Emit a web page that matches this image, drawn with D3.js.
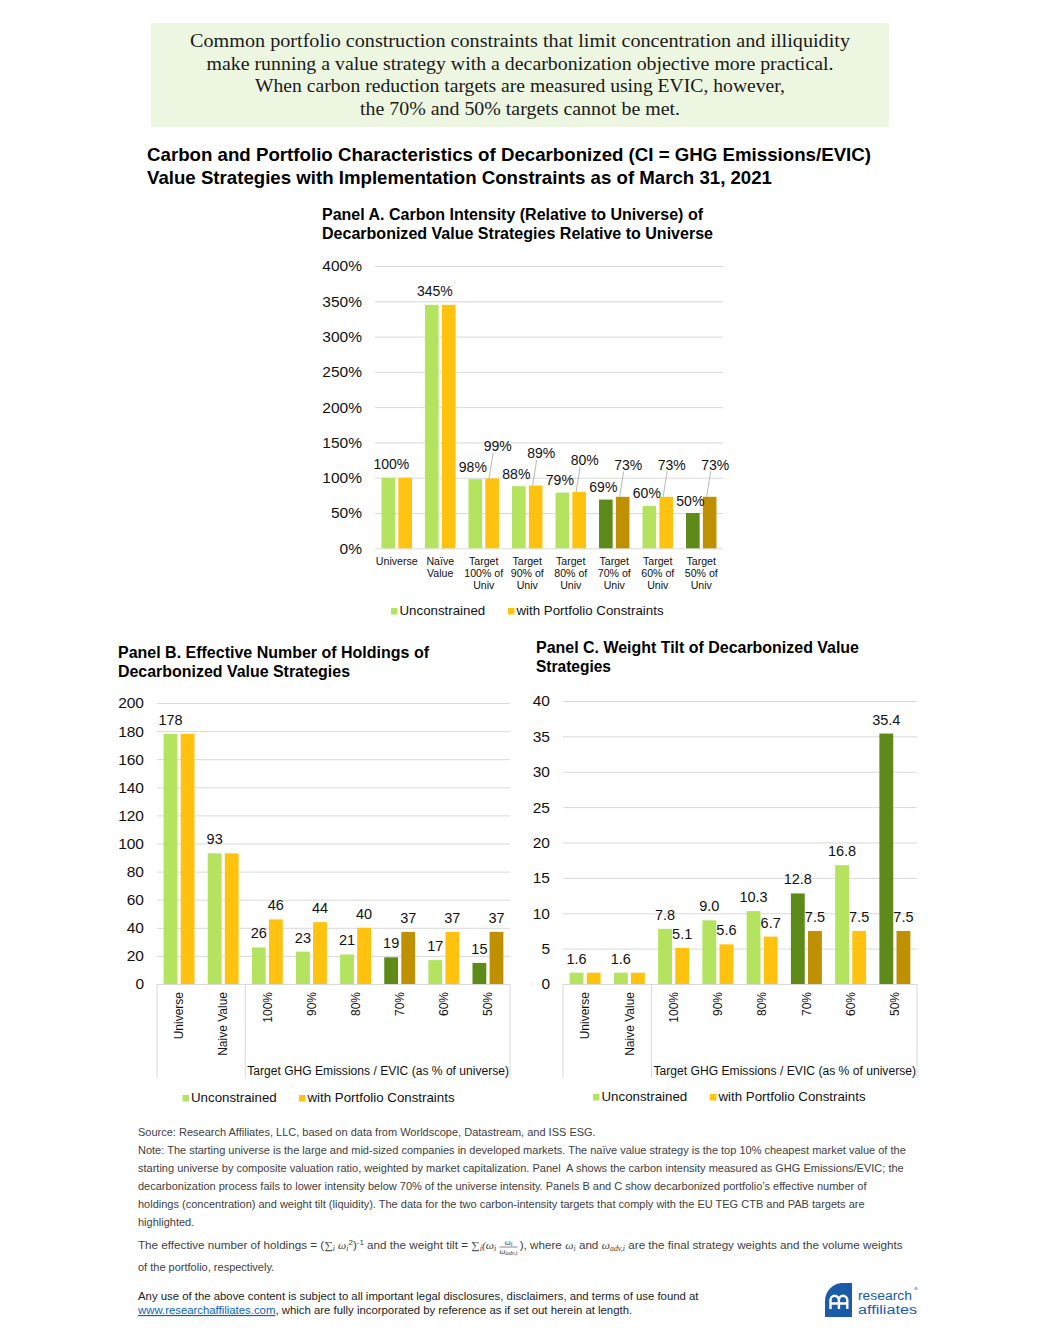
<!DOCTYPE html>
<html><head><meta charset="utf-8">
<script src="https://cdn.jsdelivr.net/npm/d3@7"></script>
<style>body{margin:0;background:#fff} svg{display:block} text{white-space:pre}</style>
</head><body><svg id="c" width="1040" height="1330"></svg>
<script>
// ---------- DATA ----------
const categoriesA = [["Universe"],["Naïve","Value"],["Target","100% of","Univ"],["Target","90% of","Univ"],["Target","80% of","Univ"],["Target","70% of","Univ"],["Target","60% of","Univ"],["Target","50% of","Univ"]];
const categoriesBC = ["Universe","Naive Value","100%","90%","80%","70%","60%","50%"];
const highlighted = [false,false,false,false,false,true,false,true];
const carbonUnconstrained = [100,345,98,88,79,69,60,50];
const carbonConstrained   = [100,345,99,89,80,73,73,73];
const holdingsUnconstrained = [178,93,26,23,21,19,17,15];
const holdingsConstrained   = [178,93,46,44,40,37,37,37];
const tiltUnconstrained = [1.6,1.6,7.8,9.0,10.3,12.8,16.8,35.4];
const tiltConstrained   = [1.6,1.6,5.1,5.6,6.7,7.5,7.5,7.5];
const ticksA = [0,50,100,150,200,250,300,350,400];
const ticksB = [0,20,40,60,80,100,120,140,160,180,200];
const ticksC = [0,5,10,15,20,25,30,35,40];
const seriesNames = ["Unconstrained","with Portfolio Constraints"];
const groupLabel = "Target GHG Emissions / EVIC (as % of universe)";
const headerLines = ["Common portfolio construction constraints that limit concentration and illiquidity","make running a value strategy with a decarbonization objective more practical.","When carbon reduction targets are measured using EVIC, however,","the 70% and 50% targets cannot be met."];
const titleLines = ["Carbon and Portfolio Characteristics of Decarbonized (CI = GHG Emissions/EVIC)","Value Strategies with Implementation Constraints as of March 31, 2021"];
const titleA = ["Panel A. Carbon Intensity (Relative to Universe) of","Decarbonized Value Strategies Relative to Universe"];
const titleB = ["Panel B. Effective Number of Holdings of","Decarbonized Value Strategies"];
const titleC = ["Panel C. Weight Tilt of Decarbonized Value","Strategies"];
const noteLines = ["Source: Research Affiliates, LLC, based on data from Worldscope, Datastream, and ISS ESG.",
"Note: The starting universe is the large and mid-sized companies in developed markets. The naïve value strategy is the top 10% cheapest market value of the",
"starting universe by composite valuation ratio, weighted by market capitalization. Panel  A shows the carbon intensity measured as GHG Emissions/EVIC; the",
"decarbonization process fails to lower intensity below 70% of the universe intensity. Panels B and C show decarbonized portfolio’s effective number of",
"holdings (concentration) and weight tilt (liquidity). The data for the two carbon-intensity targets that comply with the EU TEG CTB and PAB targets are",
"highlighted."];

// ---------- STYLE ----------
const svg = d3.select("#c");
const FONT = "'Liberation Sans', Arial, sans-serif";
const NARROW = "'Liberation Sans Narrow', 'Liberation Sans', Arial, sans-serif";
const SERIF = "'Liberation Serif', 'DejaVu Serif', serif";
const COL = {u:"#b3e35f", c:"#ffc20e", uh:"#5e8a19", ch:"#bf9000"};

function fitText(g, s, x, y, size, width, opts={}) {
  const t = g.append("text").attr("x",x).attr("y",y).attr("font-size",size)
    .attr("font-family",opts.family||FONT).attr("font-weight",opts.weight||"normal")
    .attr("fill",opts.fill||"#111").text(s);
  if (width) t.attr("textLength",width).attr("lengthAdjust","spacingAndGlyphs");
  return t;
}

// ---------- HEADER ----------
svg.append("rect").attr("x",151).attr("y",23).attr("width",738).attr("height",104).attr("fill","#ecf6e1");
const headerW = [660,627,530,320], headerY = [47,70,92,115];
headerLines.forEach((s,i)=>fitText(svg,s,520-headerW[i]/2,headerY[i],19,headerW[i],{family:SERIF,fill:"#1a1a1a"}));

// ---------- TITLES ----------
fitText(svg,titleLines[0],147,161,19,724,{weight:"bold",fill:"#000"});
fitText(svg,titleLines[1],147,184,19,625,{weight:"bold",fill:"#000"});
fitText(svg,titleA[0],322,220,16,381,{weight:"bold",fill:"#000"});
fitText(svg,titleA[1],322,239,16,391,{weight:"bold",fill:"#000"});
fitText(svg,titleB[0],118,658,16,311,{weight:"bold",fill:"#000"});
fitText(svg,titleB[1],118,677,16,232,{weight:"bold",fill:"#000"});
fitText(svg,titleC[0],536,653,16,323,{weight:"bold",fill:"#000"});
fitText(svg,titleC[1],536,672,16,75,{weight:"bold",fill:"#000"});

// ---------- PANELS ----------
function drawPanel(cfg){
  const g = svg.append("g");
  const x = d3.scaleBand().domain(d3.range(cfg.u.length)).range([cfg.x0,cfg.x1]);
  const y = d3.scaleLinear().domain([0,cfg.max]).range([cfg.base,cfg.top]);
  const ax = g.append("g").attr("transform",`translate(${cfg.x0},0)`)
    .call(d3.axisLeft(y).tickValues(cfg.ticks).tickFormat(cfg.fmt).tickSize(-(cfg.x1-cfg.x0)).tickPadding(13));
  ax.select(".domain").remove();
  ax.selectAll("line").attr("stroke","#d9d9d9");
  ax.selectAll("text").attr("font-size",cfg.tickSize).attr("font-family",FONT).attr("fill","#111");
  const step = x.bandwidth(), bw = step*0.313, hg = step*0.037;
  const cx = i => x(i)+step/2;
  const gcx = i => cx(i)-hg-bw/2, ycx = i => cx(i)+hg+bw/2;
  g.selectAll(".bu").data(cfg.u).join("rect").attr("class","bu")
    .attr("x",(d,i)=>cx(i)-hg-bw).attr("y",d=>y(d)).attr("width",bw).attr("height",d=>y(0)-y(d))
    .attr("fill",(d,i)=>highlighted[i]?COL.uh:COL.u);
  g.selectAll(".bc").data(cfg.c).join("rect").attr("class","bc")
    .attr("x",(d,i)=>cx(i)+hg).attr("y",d=>y(d)).attr("width",bw).attr("height",d=>y(0)-y(d))
    .attr("fill",(d,i)=>highlighted[i]?COL.ch:COL.c);
  return {g,x,y,cx,gcx,ycx,step};
}
function label(g,s,x,y,size){
  g.append("text").attr("x",x).attr("y",y).attr("text-anchor","middle").attr("font-size",size)
    .attr("font-family",FONT).attr("fill","#111").text(s);
}
function legend(xs1, xs2, y, size){
  [[xs1,COL.u,seriesNames[0]],[xs2,COL.c,seriesNames[1]]].forEach(([xx,col,name])=>{
    svg.append("rect").attr("x",xx).attr("y",y-7).attr("width",6.5).attr("height",6.5).attr("fill",col);
    svg.append("text").attr("x",xx+8.5).attr("y",y).attr("font-size",size).attr("font-family",FONT).attr("fill","#111").text(name);
  });
}

// Panel A
const pA = drawPanel({u:carbonUnconstrained,c:carbonConstrained,x0:375,x1:723,base:548.3,top:266,max:400,
  ticks:ticksA,fmt:d=>d+"%",tickSize:15.5});
carbonUnconstrained.forEach((v,i)=>{
  const c = carbonConstrained[i];
  if (v===c) { label(pA.g, v+"%", pA.gcx(i)+3, pA.y(v)-9, 14); }
  else {
    label(pA.g, v+"%", pA.gcx(i)-2.5, pA.y(v)-7.5, 14);
    const lx = pA.ycx(i)+5.5, ly = pA.y(c)-27;
    label(pA.g, c+"%", lx, ly, 14);
    pA.g.append("line").attr("x1",lx-4.5).attr("y1",ly+1.5).attr("x2",pA.ycx(i)-3).attr("y2",pA.y(c))
      .attr("stroke","#a6a6a6").attr("stroke-width",0.8);
  }
});
categoriesA.forEach((lines,i)=>lines.forEach((s,k)=>{
  pA.g.append("text").attr("x",pA.cx(i)).attr("y",565+k*12).attr("text-anchor","middle")
    .attr("font-size",10.6).attr("font-family",FONT).attr("fill","#111").text(s);
}));
legend(391,508,615,13.3);

// Panels B & C
function drawBC(u,c,x0,x1,top,max,ticks,fmt,lfmt){
  const p = drawPanel({u,c,x0,x1,base:984,top,max,ticks,fmt,tickSize:15.5});
  u.forEach((v,i)=>{
    label(p.g, lfmt(v), p.gcx(i), p.y(v)-9, 14.5);
    if (c[i]!==v) label(p.g, lfmt(c[i]), p.ycx(i), p.y(c[i])-9, 14.5);
  });
  categoriesBC.forEach((s,i)=>{
    p.g.append("text").attr("transform",`translate(${p.cx(i)},992) rotate(-90)`).attr("dy","0.35em")
      .attr("text-anchor","end").attr("font-size",12).attr("font-family",FONT).attr("fill","#111").text(s);
  });
  [x0, p.x(2), x1].forEach(xx=>p.g.append("line").attr("x1",xx).attr("x2",xx).attr("y1",984).attr("y2",1078)
    .attr("stroke","#d9d9d9"));
  fitText(p.g, groupLabel, p.x(2)+2, 1075, 12, x1-p.x(2)-3);
  return p;
}
drawBC(holdingsUnconstrained,holdingsConstrained,157,510,703,200,ticksB,d=>d,d=>d);
legend(182.5,299,1102,13.3);
drawBC(tiltUnconstrained,tiltConstrained,563,917,701,40,ticksC,d=>d,d3.format(".1f"));
legend(593,710,1101,13.3);

// ---------- FOOTER ----------
const fg = svg.append("g");
const noteY = [1136,1154,1172,1190,1208,1226];
const noteTexts = noteLines.map((s,i)=>fg.append("text").attr("x",0).attr("y",noteY[i]).attr("font-size",11)
  .attr("font-family",NARROW).attr("fill","#404040").text(s));
const fs = 768/noteTexts[1].node().getComputedTextLength();
fg.attr("transform",`translate(138,0) scale(${fs},1)`);

// formula line
const formula = [
  {t:"The effective number of holdings = ("},{t:"∑",k:"m"},{t:"i",k:"sub"},{t:" ω",k:"m"},{t:"i",k:"sub"},{t:"2",k:"sup"},
  {t:")"},{t:"-1",k:"sup"},{t:" and the weight tilt = "},{t:"∑",k:"m"},{t:"i",k:"sub"},{t:"(ω",k:"m"},{t:"i",k:"sub"},
  {k:"frac"},{t:"), where "},{t:"ω",k:"m"},{t:"i",k:"sub"},{t:" and "},{t:"ω",k:"m"},{t:"adv,i",k:"sub"},
  {t:" are the final strategy weights and the volume weights"}];
const mg = svg.append("g");
let cur = 0; const FY = 1249;
formula.forEach(p=>{
  if (p.k==="frac"){
    cur += 3;
    const d = mg.append("text").attr("x",cur).attr("y",FY+5).attr("font-size",8).attr("font-family",SERIF).attr("font-style","italic").attr("fill","#404040");
    d.append("tspan").text("ω"); d.append("tspan").attr("font-size",6).attr("dy",1.5).text("adv,i");
    const w = d.node().getComputedTextLength();
    const n = mg.append("text").attr("x",cur+w/2).attr("y",FY-4).attr("text-anchor","middle").attr("font-size",8).attr("font-family",SERIF).attr("font-style","italic").attr("fill","#404040");
    n.append("tspan").text("ω"); n.append("tspan").attr("font-size",6).attr("dy",1.5).text("i");
    mg.append("line").attr("x1",cur).attr("x2",cur+w).attr("y1",FY-2).attr("y2",FY-2).attr("stroke","#404040").attr("stroke-width",0.6);
    cur += w+2;
    return;
  }
  const t = mg.append("text").attr("x",cur).attr("fill","#404040").text(p.t);
  if (p.k==="sub") t.attr("y",FY+2.5).attr("font-size",7.5).attr("font-family",SERIF).attr("font-style","italic");
  else if (p.k==="sup") t.attr("y",FY-4).attr("font-size",7.5).attr("font-family",NARROW);
  else if (p.k==="m") t.attr("y",FY).attr("font-size",11).attr("font-family",SERIF).attr("font-style","italic");
  else t.attr("y",FY).attr("font-size",11).attr("font-family",NARROW);
  cur += t.node().getComputedTextLength();
});
mg.attr("transform",`translate(138,0) scale(${765/cur},1)`);

const og = svg.append("g");
og.append("text").attr("x",0).attr("y",1271).attr("font-size",11).attr("font-family",NARROW).attr("fill","#404040").text("of the portfolio, respectively.");
og.attr("transform",`translate(138,0) scale(${fs},1)`);

// legal
const lg = svg.append("g");
const l1 = lg.append("text").attr("x",0).attr("y",1300).attr("font-size",11.5).attr("font-family",NARROW).attr("fill","#222")
  .text("Any use of the above content is subject to all important legal disclosures, disclaimers, and terms of use found at");
const ls = 561/l1.node().getComputedTextLength();
const link = lg.append("text").attr("x",0).attr("y",1314).attr("font-size",11.5).attr("font-family",NARROW).attr("fill","#0563c1")
  .attr("text-decoration","underline").text("www.researchaffiliates.com");
const lw = link.node().getComputedTextLength();
lg.append("text").attr("x",lw).attr("y",1314).attr("font-size",11.5).attr("font-family",NARROW).attr("fill","#222")
  .text(", which are fully incorporated by reference as if set out herein at length.");
lg.attr("transform",`translate(138,0) scale(${ls},1)`);

// logo
const LB = "#1a5ca8";
svg.append("path").attr("d","M825,1317 V1301 A18,18 0 0 1 843,1283 H852 V1317 Z").attr("fill",LB);
svg.append("path").attr("d","M830.5,1309 V1300 a4.2,4.2 0 0 1 8.4,0 V1309 M838.9,1300 a4.2,4.2 0 0 1 8.4,0 V1309 M830.5,1303.5 H847.3")
  .attr("fill","none").attr("stroke","#fff").attr("stroke-width",2.4);
fitText(svg,"research",858,1299.5,12.5,54,{family:FONT,fill:LB});
fitText(svg,"affiliates",858,1314,12.5,59,{family:FONT,fill:LB});
svg.append("circle").attr("cx",916).attr("cy",1288.5).attr("r",1).attr("fill","none").attr("stroke",LB).attr("stroke-width",0.6);
</script></body></html>
